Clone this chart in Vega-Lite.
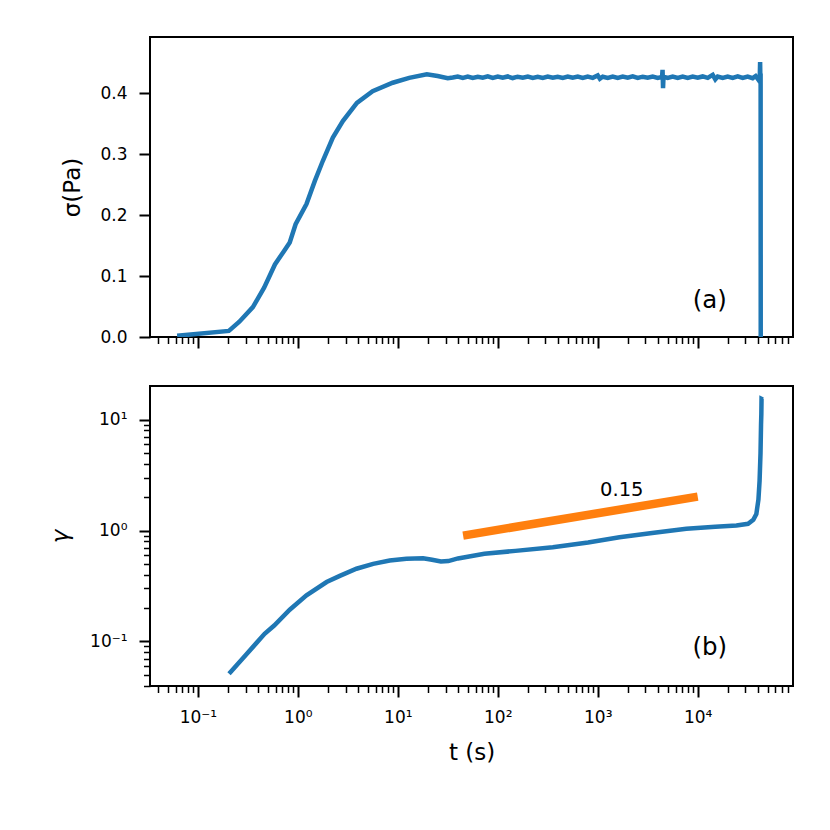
{
  "$schema": "https://vega.github.io/schema/vega-lite/v6.json",
  "padding": {"left": 48, "top": 36, "right": 5, "bottom": 5},
  "background": "white",
  "datasets": {
    "stress": [
      {"t": 0.062, "sigma": 0.002}, {"t": 0.204, "sigma": 0.010}, {"t": 0.26, "sigma": 0.025},
      {"t": 0.355, "sigma": 0.049}, {"t": 0.46, "sigma": 0.081}, {"t": 0.59, "sigma": 0.119},
      {"t": 0.72, "sigma": 0.140}, {"t": 0.83, "sigma": 0.155}, {"t": 0.95, "sigma": 0.185},
      {"t": 1.22, "sigma": 0.218}, {"t": 1.48, "sigma": 0.256}, {"t": 1.78, "sigma": 0.289},
      {"t": 2.24, "sigma": 0.327}, {"t": 2.82, "sigma": 0.354}, {"t": 3.9, "sigma": 0.384},
      {"t": 5.6, "sigma": 0.403}, {"t": 8.9, "sigma": 0.417}, {"t": 13, "sigma": 0.425},
      {"t": 19.5, "sigma": 0.431}, {"t": 25, "sigma": 0.428}, {"t": 31.6, "sigma": 0.4245},
      {"t": 35.5, "sigma": 0.4255}, {"t": 39.8, "sigma": 0.4270}, {"t": 44.7, "sigma": 0.4250},
      {"t": 50.1, "sigma": 0.4272}, {"t": 56.2, "sigma": 0.4248}, {"t": 63.1, "sigma": 0.4268},
      {"t": 70.8, "sigma": 0.4252}, {"t": 79.4, "sigma": 0.4274}, {"t": 89.1, "sigma": 0.4249},
      {"t": 100, "sigma": 0.4270}, {"t": 112, "sigma": 0.4251}, {"t": 126, "sigma": 0.4273},
      {"t": 141, "sigma": 0.4247}, {"t": 158, "sigma": 0.4269}, {"t": 178, "sigma": 0.4252},
      {"t": 200, "sigma": 0.4272}, {"t": 224, "sigma": 0.4250}, {"t": 251, "sigma": 0.4268},
      {"t": 282, "sigma": 0.4248}, {"t": 316, "sigma": 0.4271}, {"t": 355, "sigma": 0.4251},
      {"t": 398, "sigma": 0.4269}, {"t": 447, "sigma": 0.4249}, {"t": 501, "sigma": 0.4272},
      {"t": 562, "sigma": 0.4252}, {"t": 631, "sigma": 0.4270}, {"t": 708, "sigma": 0.4248},
      {"t": 794, "sigma": 0.4271}, {"t": 891, "sigma": 0.4250}, {"t": 1000, "sigma": 0.4290},
      {"t": 1050, "sigma": 0.4235}, {"t": 1122, "sigma": 0.4268}, {"t": 1259, "sigma": 0.4250},
      {"t": 1413, "sigma": 0.4272}, {"t": 1585, "sigma": 0.4249}, {"t": 1778, "sigma": 0.4270},
      {"t": 1995, "sigma": 0.4251}, {"t": 2239, "sigma": 0.4273}, {"t": 2512, "sigma": 0.4248},
      {"t": 2818, "sigma": 0.4269}, {"t": 3162, "sigma": 0.4251}, {"t": 3548, "sigma": 0.4270},
      {"t": 3981, "sigma": 0.4250}, {"t": 4400, "sigma": 0.4265}, {"t": 4450, "sigma": 0.438},
      {"t": 4500, "sigma": 0.408}, {"t": 4550, "sigma": 0.4268}, {"t": 5012, "sigma": 0.4250},
      {"t": 5623, "sigma": 0.4272}, {"t": 6310, "sigma": 0.4249}, {"t": 7079, "sigma": 0.4271},
      {"t": 7943, "sigma": 0.4250}, {"t": 8913, "sigma": 0.4270}, {"t": 10000, "sigma": 0.4252},
      {"t": 11220, "sigma": 0.4273}, {"t": 12590, "sigma": 0.4250}, {"t": 14130, "sigma": 0.4300},
      {"t": 15000, "sigma": 0.4225}, {"t": 15850, "sigma": 0.4272}, {"t": 17780, "sigma": 0.4249},
      {"t": 19950, "sigma": 0.4271}, {"t": 22390, "sigma": 0.4250}, {"t": 25120, "sigma": 0.4273},
      {"t": 28180, "sigma": 0.4248}, {"t": 31620, "sigma": 0.4272}, {"t": 35480, "sigma": 0.4245},
      {"t": 38000, "sigma": 0.4280}, {"t": 39810, "sigma": 0.4235}, {"t": 41000, "sigma": 0.4290},
      {"t": 41700, "sigma": 0.420}, {"t": 42100, "sigma": 0.451}, {"t": 42400, "sigma": 0.418},
      {"t": 42600, "sigma": 0.432}, {"t": 42700, "sigma": 0.0}
    ],
    "strain": [
      {"t": 0.205, "gamma": 0.051}, {"t": 0.3, "gamma": 0.075}, {"t": 0.465, "gamma": 0.117},
      {"t": 0.58, "gamma": 0.139}, {"t": 0.83, "gamma": 0.193}, {"t": 1.22, "gamma": 0.26},
      {"t": 1.94, "gamma": 0.343}, {"t": 2.63, "gamma": 0.39}, {"t": 3.86, "gamma": 0.452},
      {"t": 5.67, "gamma": 0.50}, {"t": 8.3, "gamma": 0.537}, {"t": 12.2, "gamma": 0.556},
      {"t": 17.9, "gamma": 0.563}, {"t": 22, "gamma": 0.545}, {"t": 27, "gamma": 0.525},
      {"t": 32, "gamma": 0.53}, {"t": 40, "gamma": 0.56}, {"t": 73.5, "gamma": 0.617},
      {"t": 150, "gamma": 0.655}, {"t": 355, "gamma": 0.707}, {"t": 800, "gamma": 0.78},
      {"t": 1650, "gamma": 0.87}, {"t": 3500, "gamma": 0.95}, {"t": 7700, "gamma": 1.035},
      {"t": 15000, "gamma": 1.08}, {"t": 24400, "gamma": 1.11}, {"t": 31900, "gamma": 1.15},
      {"t": 36000, "gamma": 1.25}, {"t": 38600, "gamma": 1.41}, {"t": 40500, "gamma": 1.9},
      {"t": 41600, "gamma": 2.82}, {"t": 42500, "gamma": 5}, {"t": 43000, "gamma": 9},
      {"t": 43300, "gamma": 11.2}, {"t": 43500, "gamma": 15.4}, {"t": 44800, "gamma": 15.2}
    ],
    "slope": [{"t": 45, "gamma": 0.90}, {"t": 10000, "gamma": 2.02}]
  },
  "config": {
    "font": "DejaVu Sans",
    "view": {"stroke": "black", "strokeWidth": 2},
    "axis": {
      "domain": false, "grid": false, "tickColor": "black", "labelColor": "black",
      "labelFontSize": 17, "titleFontSize": 23, "titleFontWeight": "normal", "titleColor": "black",
      "labelPadding": 12, "labelOverlap": false, "labelFlush": false, "titlePadding": 13
    }
  },
  "vconcat": [
    {
      "width": 643, "height": 300,
      "encoding": {
        "x": {"field": "t", "type": "quantitative",
          "scale": {"type": "log", "domain": [0.0332, 89800], "nice": false},
          "axis": {"title": null, "labels": false,
            "values": [0.04,0.05,0.06,0.07,0.08,0.09,0.1,0.2,0.3,0.4,0.5,0.6,0.7,0.8,0.9,1,2,3,4,5,6,7,8,9,10,20,30,40,50,60,70,80,90,100,200,300,400,500,600,700,800,900,1000,2000,3000,4000,5000,6000,7000,8000,9000,10000,20000,30000,40000,50000,60000,70000,80000],
            "tickSize": {"condition": {"test": "abs(log(datum.value)/LN10 - round(log(datum.value)/LN10)) < 0.001", "value": 11}, "value": 6.5},
            "tickWidth": {"condition": {"test": "abs(log(datum.value)/LN10 - round(log(datum.value)/LN10)) < 0.001", "value": 2}, "value": 1.5}}},
        "y": {"field": "sigma", "type": "quantitative",
          "scale": {"domain": [0, 0.492], "nice": false, "zero": false},
          "axis": {"title": "σ(Pa)", "titlePadding": 15, "values": [0, 0.1, 0.2, 0.3, 0.4], "format": ".1f", "tickSize": 11, "tickWidth": 2}}
      },
      "layer": [
        {"data": {"name": "stress"},
          "mark": {"type": "line", "color": "#1f77b4", "strokeWidth": 4.5, "clip": true},
          "encoding": {"order": {"value": null}}},
        {"data": {"values": [{"t": 13200, "sigma": 0.059, "label": "(a)"}]},
          "mark": {"type": "text", "fontSize": 24.5, "color": "black", "align": "center", "baseline": "middle"},
          "encoding": {"text": {"field": "label"}}}
      ]
    },
    {
      "width": 643, "height": 300,
      "encoding": {
        "x": {"field": "t", "type": "quantitative",
          "scale": {"type": "log", "domain": [0.0332, 89800], "nice": false},
          "axis": {"title": "t (s)", "titlePadding": 16,
            "values": [0.04,0.05,0.06,0.07,0.08,0.09,0.1,0.2,0.3,0.4,0.5,0.6,0.7,0.8,0.9,1,2,3,4,5,6,7,8,9,10,20,30,40,50,60,70,80,90,100,200,300,400,500,600,700,800,900,1000,2000,3000,4000,5000,6000,7000,8000,9000,10000,20000,30000,40000,50000,60000,70000,80000],
            "labelExpr": "abs(log(datum.value)/LN10 - round(log(datum.value)/LN10)) < 0.001 ? ['10⁻¹','10⁰','10¹','10²','10³','10⁴'][round(log(datum.value)/LN10)+1] : ''",
            "tickSize": {"condition": {"test": "abs(log(datum.value)/LN10 - round(log(datum.value)/LN10)) < 0.001", "value": 11}, "value": 6.5},
            "tickWidth": {"condition": {"test": "abs(log(datum.value)/LN10 - round(log(datum.value)/LN10)) < 0.001", "value": 2}, "value": 1.5}}},
        "y": {"field": "gamma", "type": "quantitative",
          "scale": {"type": "log", "domain": [0.0396, 20.1], "nice": false},
          "axis": {"title": "γ", "titleFontStyle": "italic", "titlePadding": 17,
            "values": [0.04,0.05,0.06,0.07,0.08,0.09,0.1,0.2,0.3,0.4,0.5,0.6,0.7,0.8,0.9,1,2,3,4,5,6,7,8,9,10],
            "labelExpr": "abs(log(datum.value)/LN10 - round(log(datum.value)/LN10)) < 0.001 ? ['10⁻¹','10⁰','10¹'][round(log(datum.value)/LN10)+1] : ''",
            "tickSize": {"condition": {"test": "abs(log(datum.value)/LN10 - round(log(datum.value)/LN10)) < 0.001", "value": 11}, "value": 6.5},
            "tickWidth": {"condition": {"test": "abs(log(datum.value)/LN10 - round(log(datum.value)/LN10)) < 0.001", "value": 2}, "value": 1.5}}}
      },
      "layer": [
        {"data": {"name": "strain"},
          "mark": {"type": "line", "color": "#1f77b4", "strokeWidth": 4.5, "clip": true},
          "encoding": {"order": {"value": null}}},
        {"data": {"name": "slope"},
          "mark": {"type": "line", "color": "#ff7f0e", "strokeWidth": 8.5, "strokeCap": "butt"},
          "encoding": {}},
        {"data": {"values": [{"t": 1740, "gamma": 2.34, "label": "0.15"}, {"t": 13200, "gamma": 0.0865, "label": "(b)"}]},
          "mark": {"type": "text", "color": "black", "align": "center", "baseline": "middle"},
          "encoding": {"text": {"field": "label"},
            "size": {"condition": {"test": "datum.label == '0.15'", "value": 19.5}, "value": 24.5}}}
      ]
    }
  ],
  "spacing": 49,
  "bounds": "flush"
}
